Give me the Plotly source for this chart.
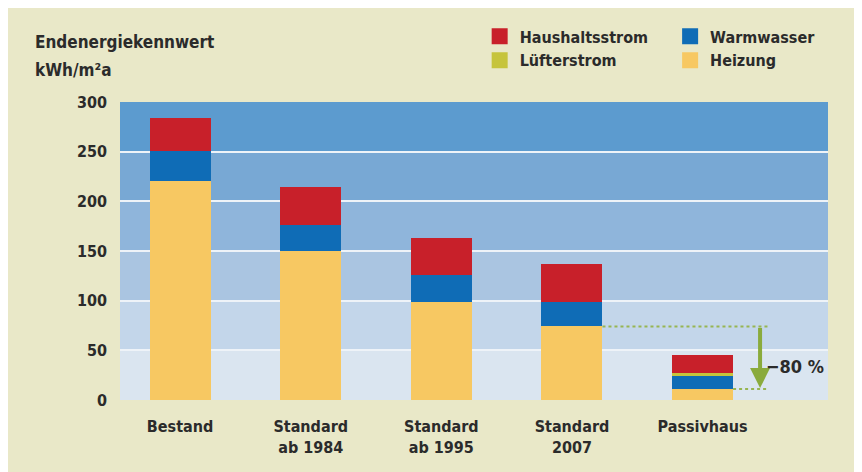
import plotly.graph_objects as go

categories = ["Bestand", "Standard<br>ab 1984", "Standard<br>ab 1995", "Standard<br>2007", "Passivhaus"]
heizung = [220, 150, 99, 74, 11]
warmwasser = [31, 26, 27, 25, 13]
luefterstrom = [0, 0, 0, 0, 3]
haushaltsstrom = [33, 38, 37, 38, 18]
y_ticks = [0, 50, 100, 150, 200, 250, 300]
reduction_label = "\u221280 %"

C_RED = "#c8202a"
C_BLUE = "#0f6cb6"
C_YEL = "#f7c862"
C_LUE = "#c6c43c"
C_GREEN = "#8aab3c"
BEIGE = "#e9e8c8"
TXT = "#2b2b2b"
FONT = "Liberation Sans Narrow, DejaVu Sans Condensed, Arial Narrow, sans-serif"
band_colors = ["#dae5f0", "#c3d6ea", "#aac5e1", "#8fb5db", "#78a8d4", "#5c9bcf"]


def fnt(size):
    return dict(size=size, color=TXT, family=FONT, weight="bold")


xi = list(range(len(categories)))
BW = 0.467

fig = go.Figure()
series = [("Heizung", heizung, C_YEL), ("Warmwasser", warmwasser, C_BLUE),
          ("Lüfterstrom", luefterstrom, C_LUE), ("Haushaltsstrom", haushaltsstrom, C_RED)]
for name, vals, col in series:
    fig.add_trace(go.Bar(x=xi, y=vals, name=name, marker=dict(color=col, line=dict(width=0)),
                         width=BW, showlegend=False))

# legend entries
legend_map = {"Heizung": "legend2", "Warmwasser": "legend2", "Lüfterstrom": "legend", "Haushaltsstrom": "legend"}
for name, vals, col in series:
    fig.add_trace(go.Scatter(x=[None], y=[None], mode="markers", name=name,
                             marker=dict(symbol="square", size=17, color=col),
                             legend=legend_map[name]))

shapes = []
for i, col in enumerate(band_colors):
    shapes.append(dict(type="rect", xref="paper", yref="y", x0=0, x1=1,
                       y0=y_ticks[i], y1=y_ticks[i + 1], fillcolor=col, line=dict(width=0), layer="below"))

# dotted reference lines
x_end = 4.5
shapes.append(dict(type="line", xref="x", yref="y", x0=3 + BW / 2, x1=x_end, y0=heizung[3], y1=heizung[3],
                   line=dict(color="#97b552", width=2, dash="dot")))
shapes.append(dict(type="line", xref="x", yref="y", x0=4 + BW / 2, x1=x_end, y0=heizung[4], y1=heizung[4],
                   line=dict(color="#97b552", width=2, dash="dot")))
fig.update_layout(shapes=shapes)

x_arrow = 4.44
fig.add_annotation(x=x_arrow, y=heizung[4] + 1, ax=x_arrow, ay=heizung[3], xref="x", yref="y",
                   axref="x", ayref="y", text="", showarrow=True, arrowhead=2, arrowsize=1,
                   arrowwidth=4, arrowcolor=C_GREEN)
fig.add_annotation(x=x_arrow + 0.03, y=34, xref="x", yref="y", text=reduction_label, showarrow=False,
                   xanchor="left", font=fnt(18))

fig.add_annotation(x=-0.123, y=1.2, xref="paper", yref="paper", text="Endenergiekennwert",
                   showarrow=False, xanchor="left", yanchor="middle", font=fnt(17))
fig.add_annotation(x=-0.123, y=1.107, xref="paper", yref="paper", text="kWh/m²a",
                   showarrow=False, xanchor="left", yanchor="middle", font=fnt(17))

fig.update_layout(
    width=862, height=472,
    margin=dict(l=112, r=42, t=92, b=80),
    paper_bgcolor=BEIGE,
    plot_bgcolor="rgba(0,0,0,0)",
    barmode="stack",
    bargap=0,
    font=fnt(16),
    xaxis=dict(tickmode="array", tickvals=xi, ticktext=categories, range=[-0.46, 4.96],
               showgrid=False, zeroline=False, showline=False, ticks="", ticklabelstandoff=15,
               tickfont=fnt(16), fixedrange=True),
    yaxis=dict(range=[0, 300], tickvals=y_ticks, showgrid=True, gridcolor="#eef3f8", gridwidth=2,
               zeroline=False, showline=False, ticks="", ticklabelstandoff=12,
               tickfont=fnt(16)),
    legend=dict(x=0.508, y=1.277, xanchor="left", yanchor="top", traceorder="reversed",
                bgcolor="rgba(0,0,0,0)", itemwidth=30, font=fnt(16)),
    legend2=dict(x=0.777, y=1.277, xanchor="left", yanchor="top", traceorder="reversed",
                 bgcolor="rgba(0,0,0,0)", itemwidth=30, font=fnt(16)),
)

fig.write_html("out.html")
